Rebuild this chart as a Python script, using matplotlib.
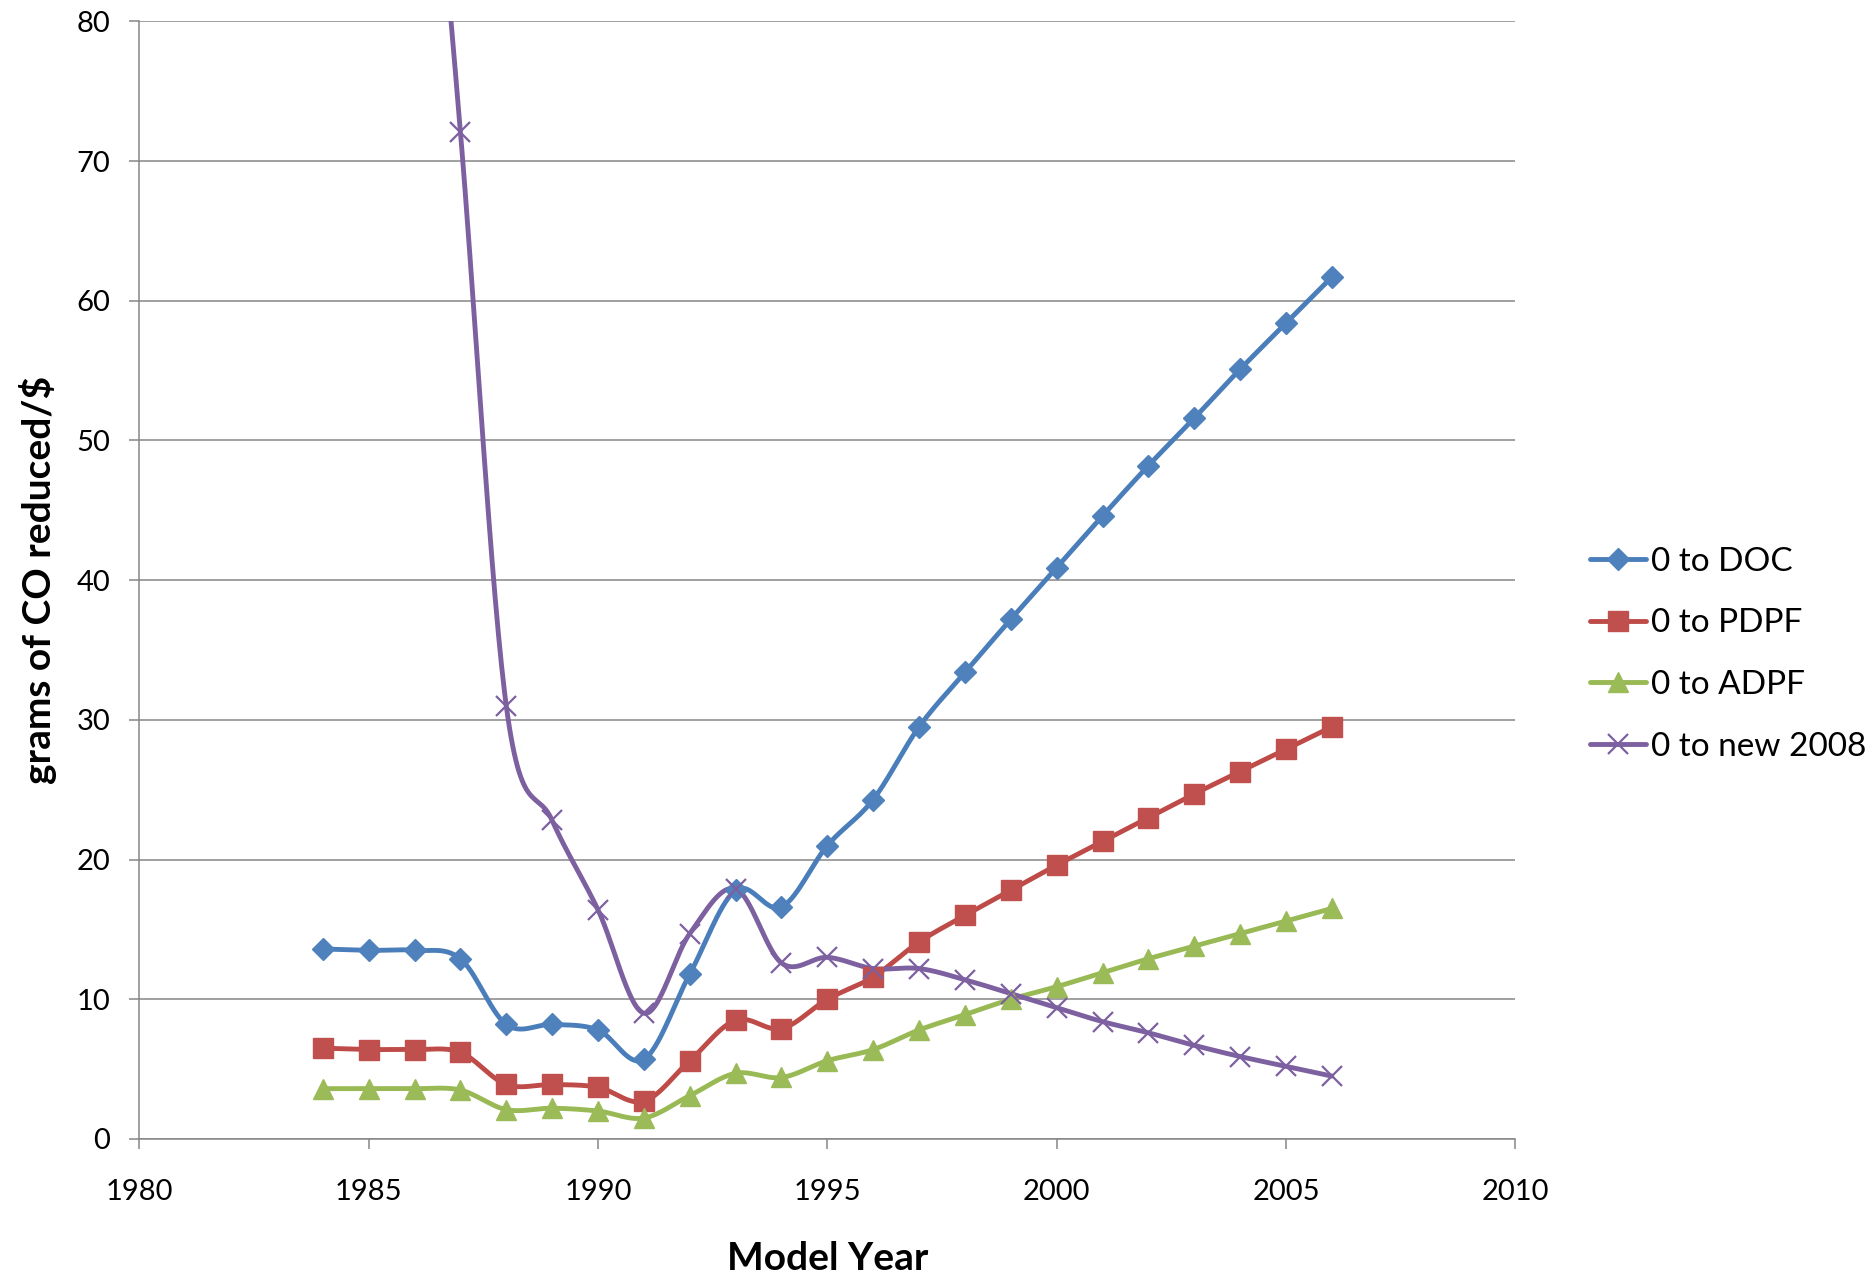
import numpy as np
import matplotlib
matplotlib.use("Agg")
import matplotlib.pyplot as plt

plt.rcParams['font.family'] = ['Lato', 'DejaVu Sans']

# model years and series values (grams of CO reduced per $)
years = list(range(1984, 2007))
doc = [13.6, 13.5, 13.5, 12.9, 8.2, 8.2, 7.8, 5.7, 11.8, 17.8, 16.6, 21.0,
       24.3, 29.5, 33.4, 37.2, 40.9, 44.6, 48.2, 51.6, 55.1, 58.4, 61.7]
pdpf = [6.5, 6.4, 6.4, 6.2, 3.9, 3.9, 3.7, 2.7, 5.6, 8.5, 7.9, 10.0,
        11.6, 14.1, 16.0, 17.8, 19.6, 21.3, 23.0, 24.7, 26.3, 27.9, 29.5]
adpf = [3.6, 3.6, 3.6, 3.5, 2.1, 2.2, 2.0, 1.5, 3.1, 4.7, 4.4, 5.6,
        6.4, 7.8, 8.9, 10.0, 10.9, 11.9, 12.9, 13.8, 14.7, 15.6, 16.5]
new2008 = [190.0, 150.0, 110.0, 72.1, 31.0, 22.8, 16.4, 9.0, 14.7, 17.9, 12.6, 13.0,
           12.2, 12.2, 11.4, 10.4, 9.4, 8.4, 7.6, 6.7, 5.9, 5.2, 4.5]
labels = ['0 to DOC', '0 to PDPF', '0 to ADPF', '0 to new 2008']
colors = ['#4A7EBB', '#BE4B48', '#98B954', '#7D60A0']
fills = ['#4F81BD', '#C0504D', '#9BBB59', '#7D60A0']
markers = ['D', 's', '^', 'x']
msizes = [11.5, 14, 15, 14]


def smooth(x, y, n=30):
    # bezier smoothing like a spreadsheet "smoothed line"
    x = np.asarray(x, float)
    y = np.asarray(y, float)
    px = np.concatenate([[x[0]], x, [x[-1]]])
    py = np.concatenate([[y[0]], y, [y[-1]]])
    t = np.linspace(0, 1, n)
    xs, ys = [], []
    for i in range(1, len(px) - 2):
        x0, y0 = px[i], py[i]
        x3, y3 = px[i + 1], py[i + 1]
        x1 = x0 + (px[i + 1] - px[i - 1]) / 6
        y1 = y0 + (py[i + 1] - py[i - 1]) / 6
        x2 = x3 - (px[i + 2] - px[i]) / 6
        y2 = y3 - (py[i + 2] - py[i]) / 6
        b0, b1, b2, b3 = (1 - t) ** 3, 3 * (1 - t) ** 2 * t, 3 * (1 - t) * t ** 2, t ** 3
        xs.append(b0 * x0 + b1 * x1 + b2 * x2 + b3 * x3)
        ys.append(b0 * y0 + b1 * y1 + b2 * y2 + b3 * y3)
    return np.concatenate(xs), np.concatenate(ys)


fig = plt.figure(figsize=(18.68, 12.75), dpi=100)
ax = fig.add_axes([0.0746, 0.1067, 0.8112 - 0.0746, 0.9832 - 0.1067])

lw = 3.5
handles = []
for vals, lab, c, f, m, ms in zip([doc, pdpf, adpf, new2008], labels, colors, fills, markers, msizes):
    sx, sy = smooth(years, vals)
    ax.plot(sx, sy, color=c, lw=lw, solid_capstyle='round', solid_joinstyle='round', zorder=3)
    if m == 'x':
        ax.plot(years, vals, ls='none', marker=m, ms=ms, mew=1.6, color=c, zorder=4)
        h, = ax.plot([], [], color=c, lw=lw, marker=m, ms=ms, mew=1.6, solid_capstyle='round')
    else:
        ax.plot(years, vals, ls='none', marker=m, ms=ms, mfc=f, mec=f, mew=1, zorder=4)
        h, = ax.plot([], [], color=c, lw=lw, marker=m, ms=ms, mfc=f, mec=f, solid_capstyle='round')
    handles.append(h)

ax.set_xlim(1980, 2010)
ax.set_ylim(0, 80)
ax.set_xticks(range(1980, 2011, 5))
ax.set_yticks(range(0, 81, 10))
ax.yaxis.grid(True, color='#868686', lw=1.1)
ax.set_axisbelow(True)
for s in ['top', 'right']:
    ax.spines[s].set_visible(False)
for s in ['left', 'bottom']:
    ax.spines[s].set_color('#868686')
    ax.spines[s].set_linewidth(1.1)
ax.tick_params(axis='both', direction='out', length=7, width=1.1, color='#868686',
               labelsize=21, labelcolor='black')
ax.tick_params(axis='x', pad=22)
ax.tick_params(axis='y', pad=14)

ax.set_xlabel('Model Year', fontsize=28, fontweight='bold', va='center')
ax.xaxis.set_label_coords(0.5, -0.107)
ax.set_ylabel('grams of CO reduced/$', fontsize=28, fontweight='bold', va='center')
ax.yaxis.set_label_coords(-0.0737, 0.5)

fig.legend(handles=handles, labels=labels, loc='center left', bbox_to_anchor=(0.851, 0.487),
           frameon=False, fontsize=24, handlelength=1.7, handletextpad=0.15,
           labelspacing=0.95, borderpad=0, borderaxespad=0)

fig.savefig('out.png', dpi=100)
